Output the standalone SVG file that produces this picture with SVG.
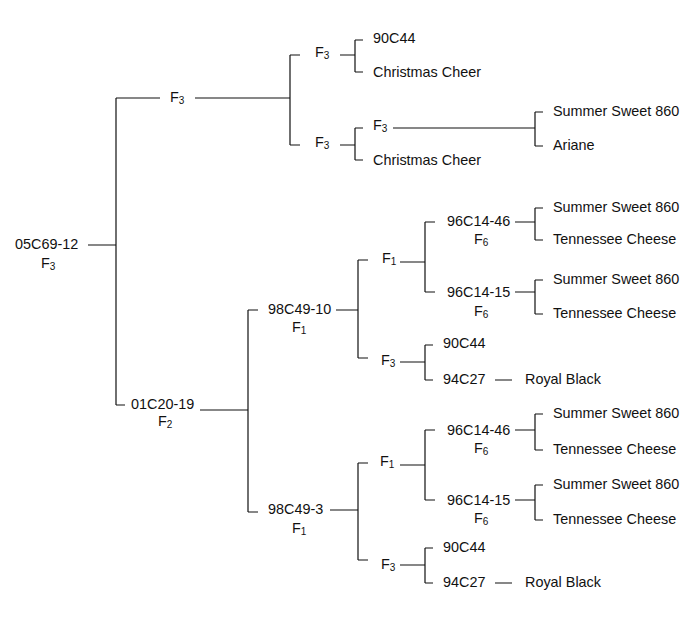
<svg xmlns="http://www.w3.org/2000/svg" width="700" height="623" viewBox="0 0 700 623">
<style>
text{font-family:"Liberation Sans",Arial,sans-serif;font-size:14.4px;fill:#111;dominant-baseline:middle}
.s{font-size:10px}
path{stroke:#111;stroke-width:1.2;fill:none}
</style>
<rect width="700" height="623" fill="#fff"/>
<g id="connectors">
<path d="M88 245H116M116 98V405M116 98H160M195 98H290M290 55V145M290 55H300M290 145H300"/>
<path d="M340 55H355M355 40V72M355 40H363M355 72H363"/>
<path d="M340 145H355M355 128V160M355 128H363M355 160H363"/>
<path d="M393 128H535M535 112V146M535 112H543M535 146H543"/>
<path d="M116 405H125M200 410H248M248 310V512M248 310H258M248 512H258"/>
<path d="M336 310H358M358 260V358M358 260H368M358 358H368"/>
<path d="M400 262H425M425 222V292M425 222H435M425 292H435"/>
<path d="M515 222H535M535 208V240M535 208H543M535 240H543"/>
<path d="M515 292H535M535 280V314M535 280H543M535 314H543"/>
<path d="M400 362H425M425 345V380M425 345H433M425 380H433M495 380H512"/>
<path d="M330 510H358M358 463V560M358 463H368M358 560H368"/>
<path d="M400 465H425M425 430V500M425 430H435M425 500H435"/>
<path d="M515 430H535M535 414V450M535 414H543M535 450H543"/>
<path d="M515 500H535M535 485V520M535 485H543M535 520H543"/>
<path d="M400 565H425M425 548V583M425 548H433M425 583H433M495 583H512"/>
</g>
<g id="root"><text x="15" y="245">05C69-12</text><text x="41" y="264">F<tspan class="s" dy="3">3</tspan></text></g>
<g id="f3a"><text x="170" y="98">F<tspan class="s" dy="3">3</tspan></text></g>
<g id="f3b"><text x="315" y="53">F<tspan class="s" dy="3">3</tspan></text></g>
<g id="n90a"><text x="373" y="39">90C44</text></g>
<g id="cc1"><text x="373" y="73">Christmas Cheer</text></g>
<g id="f3c"><text x="315" y="143">F<tspan class="s" dy="3">3</tspan></text></g>
<g id="f3d"><text x="373" y="126">F<tspan class="s" dy="3">3</tspan></text></g>
<g id="cc2"><text x="373" y="161">Christmas Cheer</text></g>
<g id="ss0"><text x="553" y="112">Summer Sweet 860</text></g>
<g id="ariane"><text x="553" y="146">Ariane</text></g>
<g id="n01"><text x="131" y="405">01C20-19</text><text x="158" y="422">F<tspan class="s" dy="3">2</tspan></text></g>
<g id="n98a"><text x="268" y="310">98C49-10</text><text x="292" y="328">F<tspan class="s" dy="3">1</tspan></text></g>
<g id="f1a"><text x="382" y="259">F<tspan class="s" dy="3">1</tspan></text></g>
<g id="n9646a"><text x="447" y="222">96C14-46</text><text x="474" y="240">F<tspan class="s" dy="3">6</tspan></text></g>
<g id="ss1"><text x="553" y="208">Summer Sweet 860</text></g>
<g id="tc1"><text x="553" y="240">Tennessee Cheese</text></g>
<g id="n9615a"><text x="447" y="293">96C14-15</text><text x="474" y="312">F<tspan class="s" dy="3">6</tspan></text></g>
<g id="ss2"><text x="553" y="280">Summer Sweet 860</text></g>
<g id="tc2"><text x="553" y="314">Tennessee Cheese</text></g>
<g id="f3e"><text x="381" y="361">F<tspan class="s" dy="3">3</tspan></text></g>
<g id="n90b"><text x="443" y="344">90C44</text></g>
<g id="n94a"><text x="443" y="380">94C27</text></g>
<g id="rb1"><text x="525" y="380">Royal Black</text></g>
<g id="n98b"><text x="268" y="510">98C49-3</text><text x="292" y="529">F<tspan class="s" dy="3">1</tspan></text></g>
<g id="f1b"><text x="380" y="462">F<tspan class="s" dy="3">1</tspan></text></g>
<g id="n9646b"><text x="447" y="431">96C14-46</text><text x="474" y="449">F<tspan class="s" dy="3">6</tspan></text></g>
<g id="ss3"><text x="553" y="414">Summer Sweet 860</text></g>
<g id="tc3"><text x="553" y="450">Tennessee Cheese</text></g>
<g id="n9615b"><text x="447" y="501">96C14-15</text><text x="474" y="519">F<tspan class="s" dy="3">6</tspan></text></g>
<g id="ss4"><text x="553" y="485">Summer Sweet 860</text></g>
<g id="tc4"><text x="553" y="520">Tennessee Cheese</text></g>
<g id="f3f"><text x="381" y="565">F<tspan class="s" dy="3">3</tspan></text></g>
<g id="n90c"><text x="443" y="548">90C44</text></g>
<g id="n94b"><text x="443" y="583">94C27</text></g>
<g id="rb2"><text x="525" y="583">Royal Black</text></g>
</svg>
